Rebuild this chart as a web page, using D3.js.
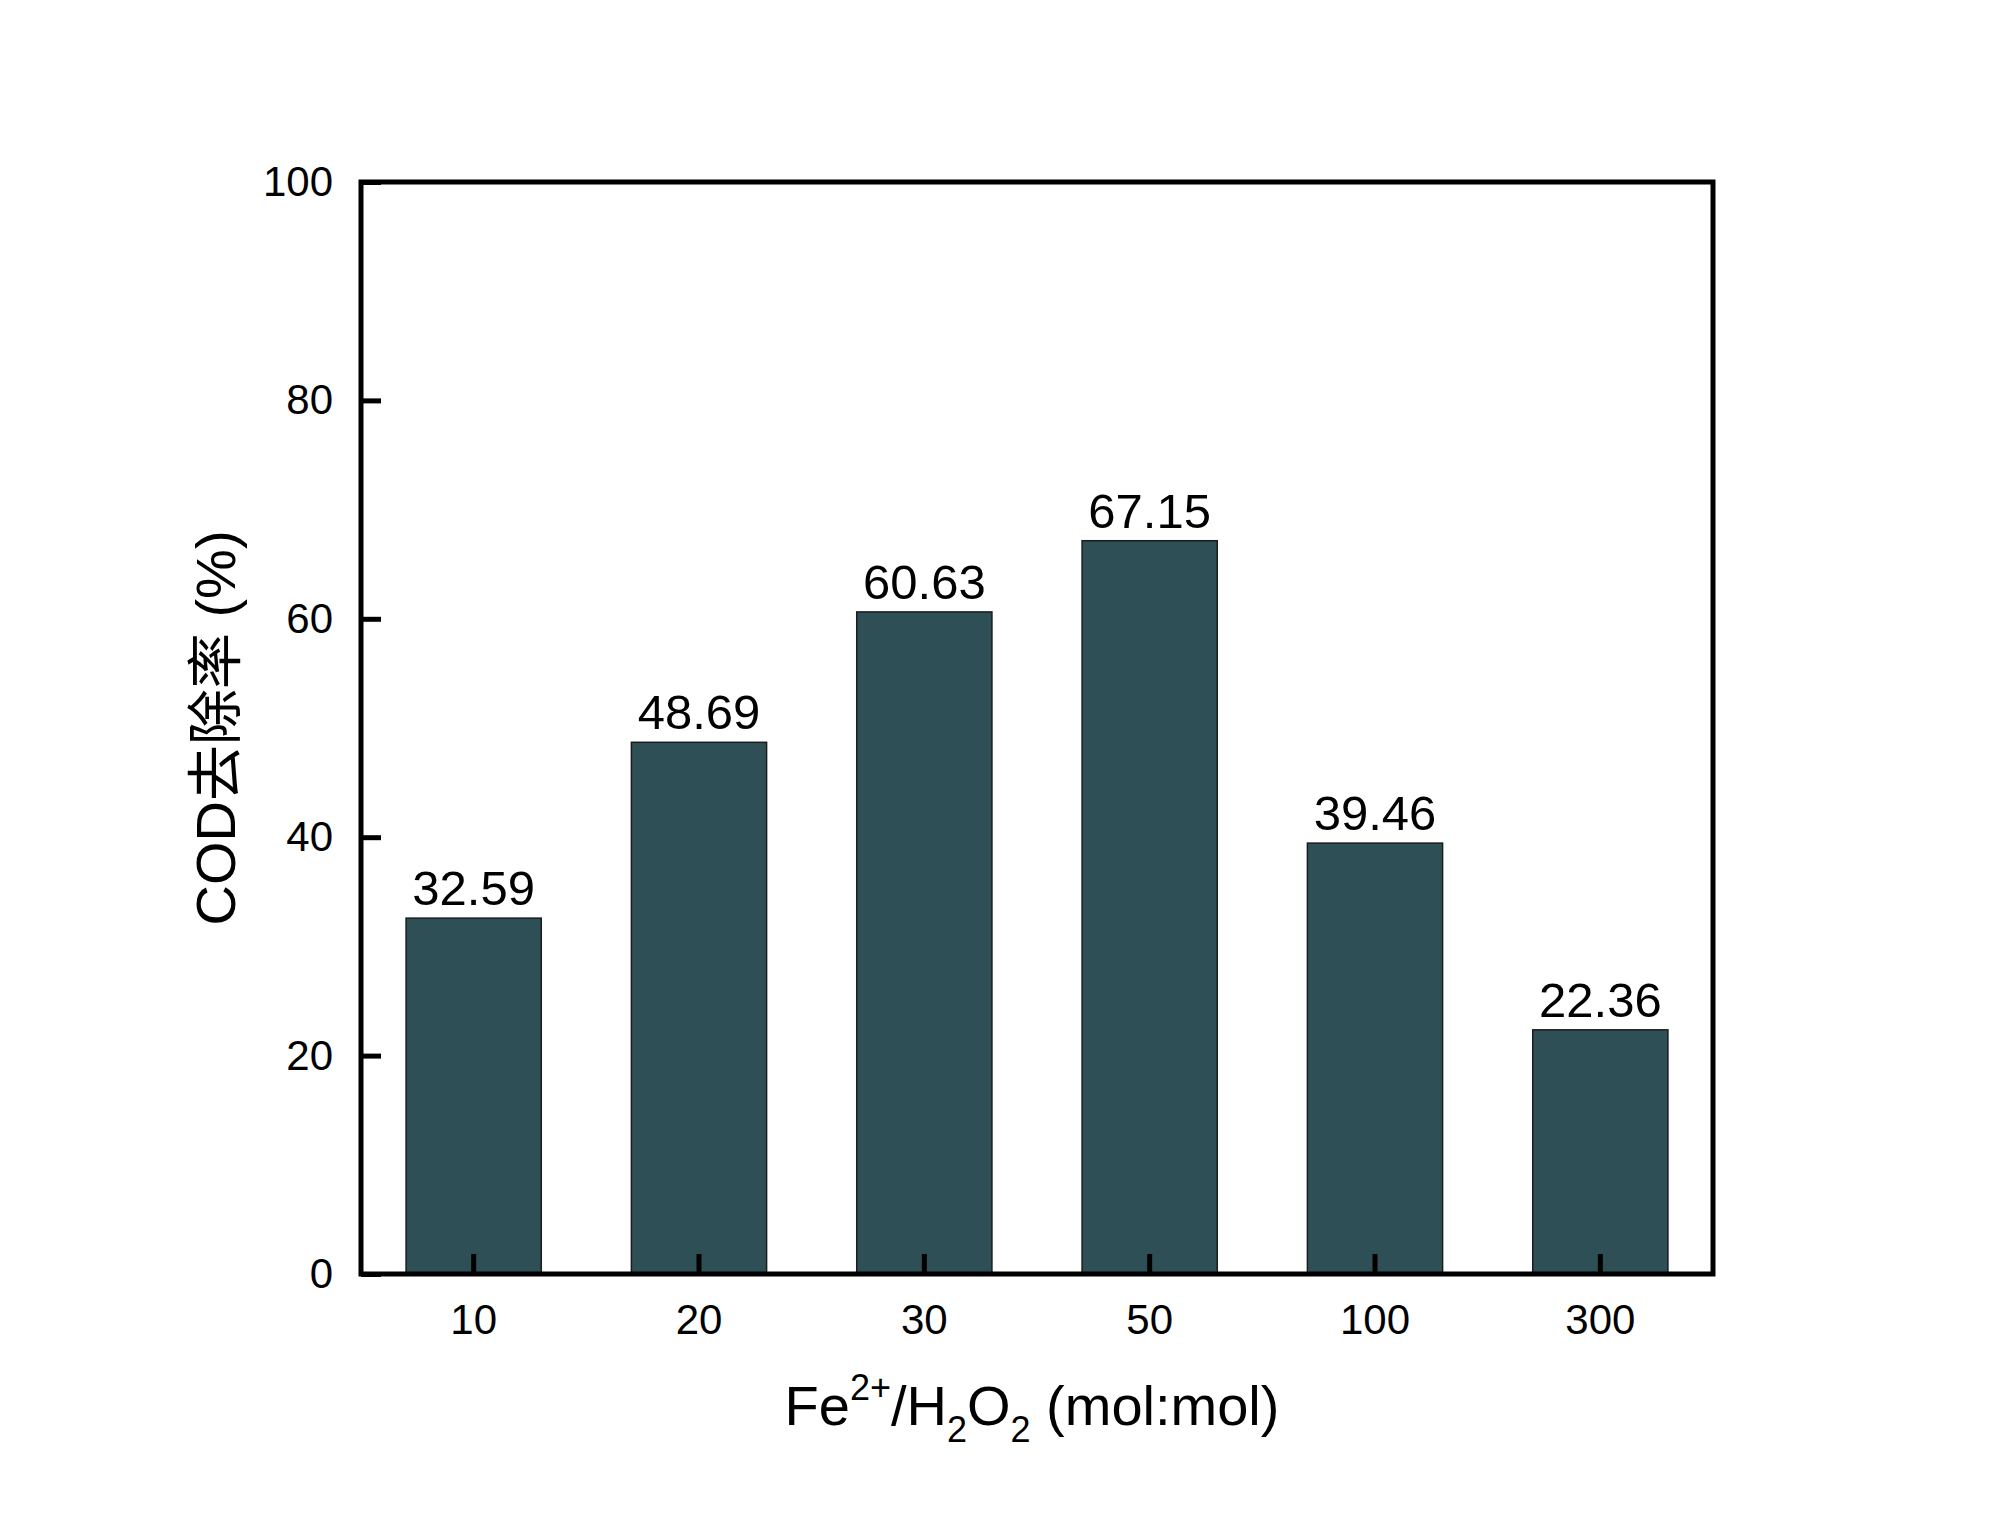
<!DOCTYPE html>
<html>
<head>
<meta charset="utf-8">
<title>COD去除率</title>
<script src="https://cdn.jsdelivr.net/npm/d3@7"></script>
<style>
    html, body { margin: 0; padding: 0; background: #ffffff; }
    svg { display: block; }
</style>
</head>
<body>
<div id="chart"></div>
<script>
// Chart data
const categories = ['10', '20', '30', '50', '100', '300'];
const removalRates = [32.59, 48.69, 60.63, 67.15, 39.46, 22.36];
const yTicks = [0, 20, 40, 60, 80, 100];

// Layout parameters
const config = {
    width: 1999,
    height: 1535,
    frame: { left: 361, top: 182, right: 1713, bottom: 1274 },
    tickLength: 20,
    barColor: '#2f4f56',
    font: "'Liberation Sans', Arial, 'Noto Sans CJK SC', sans-serif"
};

const svg = d3.select('#chart')
    .append('svg')
    .attr('width', config.width)
    .attr('height', config.height);

const f = config.frame;

// Scales
const x = d3.scaleBand()
    .domain(categories)
    .range([f.left, f.right])
    .paddingInner(0.4)
    .paddingOuter(0.2);

const y = d3.scaleLinear()
    .domain([0, 100])
    .range([f.bottom, f.top]);

// Bars
svg.append('g')
    .selectAll('rect')
    .data(removalRates)
    .join('rect')
    .attr('x', (d, i) => x(categories[i]))
    .attr('y', d => y(d))
    .attr('width', x.bandwidth())
    .attr('height', d => y(0) - y(d))
    .attr('fill', config.barColor)
    .attr('stroke', '#1c1c1c')
    .attr('stroke-width', 1.5);

// Value labels above bars
svg.append('g')
    .selectAll('text')
    .data(removalRates)
    .join('text')
    .attr('x', (d, i) => x(categories[i]) + x.bandwidth() / 2)
    .attr('y', d => y(d) - 13)
    .attr('text-anchor', 'middle')
    .style('font-family', config.font)
    .style('font-size', '49px')
    .attr('fill', '#000')
    .text(d => d.toFixed(2));

// Left axis, ticks pointing inward
const yAxis = svg.append('g')
    .attr('transform', `translate(${f.left},0)`)
    .call(d3.axisLeft(y)
        .tickValues(yTicks)
        .tickSizeInner(-config.tickLength)
        .tickSizeOuter(0)
        .tickPadding(28));

// Bottom axis, ticks pointing inward
const xAxis = svg.append('g')
    .attr('transform', `translate(0,${f.bottom})`)
    .call(d3.axisBottom(x)
        .tickSizeInner(-config.tickLength)
        .tickSizeOuter(0)
        .tickPadding(30));

[yAxis, xAxis].forEach(axis => {
    axis.select('.domain').remove();
    axis.selectAll('line')
        .attr('stroke', '#000')
        .attr('stroke-width', 5);
    axis.selectAll('text')
        .style('font-family', config.font)
        .style('font-size', '42px')
        .attr('fill', '#000');
});

xAxis.selectAll('text').attr('dy', '0.72em');

// Plot frame
svg.append('rect')
    .attr('x', f.left)
    .attr('y', f.top)
    .attr('width', f.right - f.left)
    .attr('height', f.bottom - f.top)
    .attr('fill', 'none')
    .attr('stroke', '#000')
    .attr('stroke-width', 5);

// Y axis title
svg.append('text')
    .attr('transform', `translate(235,${(f.top + f.bottom) / 2}) rotate(-90)`)
    .attr('text-anchor', 'middle')
    .style('font-family', config.font)
    .style('font-size', '56px')
    .attr('fill', '#000')
    .text('COD去除率 (%)');

// X axis title with super- and subscripts
const xTitle = svg.append('text')
    .attr('x', (f.left + f.right) / 2 - 5)
    .attr('y', 1425)
    .attr('text-anchor', 'middle')
    .style('font-family', config.font)
    .style('font-size', '56px')
    .attr('fill', '#000');

const titleParts = [
    { text: 'Fe', dy: 0, size: 56 },
    { text: '2+', dy: -25, size: 36 },
    { text: '/H', dy: 25, size: 56 },
    { text: '2', dy: 17, size: 36 },
    { text: 'O', dy: -17, size: 56 },
    { text: '2', dy: 17, size: 36 },
    { text: ' (mol:mol)', dy: -17, size: 56 }
];

titleParts.forEach(p => {
    xTitle.append('tspan')
        .attr('dy', p.dy)
        .style('font-size', `${p.size}px`)
        .text(p.text);
});
</script>
</body>
</html>
